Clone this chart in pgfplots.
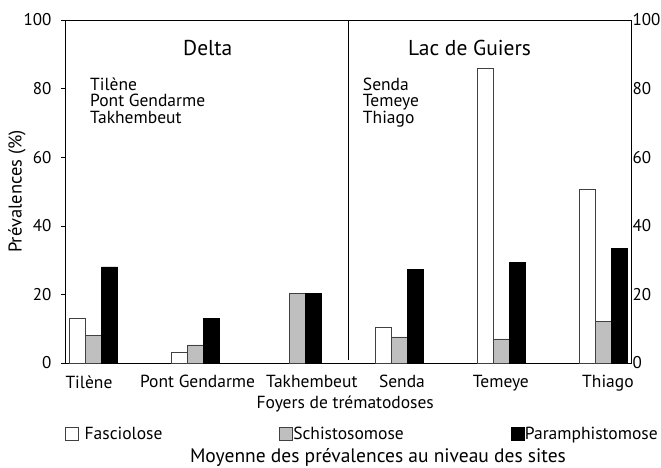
\documentclass[border=0pt]{standalone}
\usepackage{fontspec}
\setmainfont{PT Sans}
\usepackage{pgfplots}
\pgfplotsset{compat=1.18}
\usetikzlibrary{calc}
\begin{document}
\begin{tikzpicture}[font=\fontsize{17.5}{20}\selectfont]
\begin{axis}[
  name=main,
  width=566pt, height=343pt, scale only axis,
  ymin=0, ymax=100, xmin=-0.28, xmax=5.27,
  ytick={0,20,...,100},
  ytick pos=left,
  xtick pos=bottom,
  tick align=outside,
  major tick length=4pt,
  every tick/.style={black, line width=0.6pt},
  x tick style={draw=none},
  xtick={-0.045,1.02,2.14,3.024,3.994,5.044},
  xticklabels={Tilène,Pont Gendarme,Takhembeut,Senda,Temeye,Thiago},
  xticklabel style={yshift=-5pt},
  yticklabel style={xshift=-6pt, font=\fontsize{17}{20}\selectfont},
  ylabel={Prévalences (\%)},
  ylabel style={font=\fontsize{18.5}{21}\selectfont, yshift=-9pt},
  xlabel={Foyers de trématodoses},
  xlabel style={at={(rel axis cs:0.495,-0.1195)}, anchor=center},
  /pgf/number format/assume math mode=true,
  axis line style={line width=0.8pt},
  ybar, bar width=16pt,
  legend columns=3,
  legend cell align=left,
  legend style={at={(rel axis cs:-0.0055,-0.207)}, anchor=west, draw=none, fill=none,
    nodes={inner sep=0pt}, /tikz/every even column/.append style={column sep=0pt}},
  legend image code/.code={\draw[#1] (0pt,-6.5pt) rectangle (13pt,6.5pt);},
]
\addplot[fill=white, draw=black!75, line width=0.6pt, bar shift=-16pt]
  coordinates {(0,13) (1,3) (3,10.5) (4,86) (5,50.5)};
\addlegendentry{\makebox[200pt][l]{\hspace{6pt}Fasciolose}}
\addplot[fill=black!25, draw=black!75, line width=0.6pt, bar shift=0pt]
  coordinates {(0,8) (1,5.3) (2,20.2) (3,7.6) (4,7) (5,12.2)};
\addlegendentry{\makebox[219pt][l]{\hspace{1pt}Schistosomose}}
\addplot[fill=black, draw=black, line width=0.6pt, bar shift=16pt]
  coordinates {(0,28) (1,13) (2,20.2) (3,27.4) (4,29.4) (5,33.5)};
\addlegendentry{\hspace{0pt}Paramphistomose}
\coordinate (O) at (rel axis cs:0,0);
\draw[line width=0.8pt] (axis cs:2.5,1) -- (axis cs:2.5,100);
\node[anchor=west, inner sep=0pt, font=\fontsize{21.5}{24}\selectfont] at (axis cs:0.877,91.8) {Delta};
\node[anchor=west, inner sep=0pt, font=\fontsize{21.5}{24}\selectfont] at (axis cs:3.083,91.8) {Lac de Guiers};
\node[anchor=north west, align=left, inner sep=0pt, font=\fontsize{17.5}{16.5}\selectfont]
  at (axis cs:-0.035,83.2) {Tilène\\Pont Gendarme\\Takhembeut};
\node[anchor=north west, align=left, inner sep=0pt, font=\fontsize{17.5}{16.5}\selectfont]
  at (axis cs:2.64,83.2) {Senda\\Temeye\\Thiago};
\end{axis}
\begin{axis}[
  width=566pt, height=343pt, scale only axis,
  ymin=0, ymax=100, xmin=-0.28, xmax=5.27,
  axis x line=none,
  axis y line*=right,
  axis line style={line width=0.8pt},
  ytick={0,20,...,100},
  major tick length=0pt,
  yticklabel style={xshift=-2pt, font=\fontsize{17}{20}\selectfont},
  /pgf/number format/assume math mode=true,
]
\end{axis}
\node[font=\fontsize{19.5}{22}\selectfont] at ($(O)+(313pt,-94pt)$) {Moyenne des prévalences au niveau des sites};
\pgfresetboundingbox
\path[use as bounding box] (O) ++(-65pt,-104pt) rectangle ++(661pt,467pt);
\end{tikzpicture}
\end{document}
